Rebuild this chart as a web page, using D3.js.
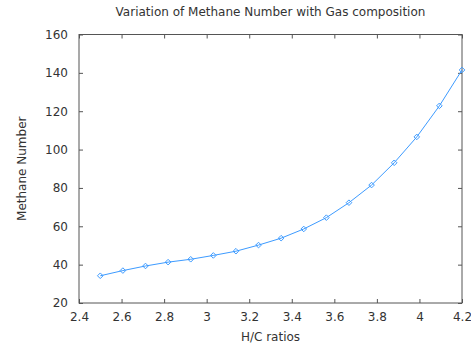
<!DOCTYPE html>
<html>
<head>
<meta charset="utf-8">
<script src="https://cdn.jsdelivr.net/npm/d3@7/dist/d3.min.js"></script>
<style>
  html, body { margin: 0; padding: 0; background: #fff; }
  svg { display: block; font-family: "DejaVu Sans", sans-serif; }
</style>
</head>
<body>
<svg id="chart" width="471" height="346"></svg>
<script>
// H/C ratio of the gas and the resulting methane number
const hcRatios = [2.5, 2.60625, 2.7125, 2.81875, 2.925, 3.03125, 3.1375, 3.24375,
                  3.35, 3.45625, 3.5625, 3.66875, 3.775, 3.88125, 3.9875, 4.09375, 4.2];
const methaneNumber = [34.2, 36.9, 39.3, 41.3, 42.8, 44.8, 47.0, 50.2,
                       53.8, 58.6, 64.5, 72.3, 81.5, 93.1, 106.6, 122.8, 141.5];
const xTicks = [2.4, 2.6, 2.8, 3, 3.2, 3.4, 3.6, 3.8, 4, 4.2];
const yTicks = [20, 40, 60, 80, 100, 120, 140, 160];

const svg = d3.select("#chart");
const m = { left: 79, right: 462, top: 34.5, bottom: 303 };

const x = d3.scaleLinear().domain([2.4, 4.2]).range([m.left, m.right]);
const y = d3.scaleLinear().domain([20, 160]).range([m.bottom, m.top]);

const axisColor = "#555";
const textColor = "#333";
const tick = 4;

// Box frame
svg.append("rect")
  .attr("x", m.left).attr("y", m.top)
  .attr("width", m.right - m.left).attr("height", m.bottom - m.top)
  .attr("fill", "none").attr("stroke", axisColor).attr("stroke-width", 1);

// Axes with inward ticks, mirrored on the opposite sides
function styleAxis(g) {
  g.select(".domain").remove();
  g.selectAll(".tick line").attr("stroke", axisColor);
  g.selectAll(".tick text").attr("fill", textColor).style("font-size", "12px")
    .style("font-family", "'DejaVu Sans', sans-serif");
}

svg.append("g").attr("transform", `translate(0,${m.bottom})`)
  .call(d3.axisBottom(x).tickValues(xTicks).tickFormat(d3.format("~g"))
        .tickSizeInner(-tick).tickPadding(9))
  .call(styleAxis);

svg.append("g").attr("transform", `translate(0,${m.top})`)
  .call(d3.axisTop(x).tickValues(xTicks).tickFormat("").tickSizeInner(-tick))
  .call(styleAxis);

svg.append("g").attr("transform", `translate(${m.left},0)`)
  .call(d3.axisLeft(y).tickValues(yTicks).tickFormat(d3.format("d"))
        .tickSizeInner(-tick).tickPadding(11))
  .call(styleAxis);

svg.append("g").attr("transform", `translate(${m.right},0)`)
  .call(d3.axisRight(y).tickValues(yTicks).tickFormat("").tickSizeInner(-tick))
  .call(styleAxis);

// Data line
const pts = hcRatios.map((h, i) => [h, methaneNumber[i]]);
const lineColor = "#3d9bff";
svg.append("path")
  .datum(pts)
  .attr("fill", "none")
  .attr("stroke", lineColor)
  .attr("stroke-width", 1)
  .attr("d", d3.line().x(d => x(d[0])).y(d => y(d[1])));

// Diamond markers
svg.append("g").selectAll("path")
  .data(pts)
  .join("path")
  .attr("transform", d => `translate(${x(d[0])},${y(d[1])})`)
  .attr("d", "M0,-2.8L2.8,0L0,2.8L-2.8,0Z")
  .attr("fill", "none")
  .attr("stroke", lineColor)
  .attr("stroke-width", 1);

// Titles
svg.append("text")
  .attr("x", (m.left + m.right) / 2).attr("y", 16)
  .attr("text-anchor", "middle").attr("fill", textColor)
  .style("font-size", "12px")
  .text("Variation of Methane Number with Gas composition");

svg.append("text")
  .attr("x", (m.left + m.right) / 2).attr("y", 341)
  .attr("text-anchor", "middle").attr("fill", textColor)
  .style("font-size", "12px")
  .text("H/C ratios");

svg.append("text")
  .attr("transform", `translate(26,${(m.top + m.bottom) / 2}) rotate(-90)`)
  .attr("text-anchor", "middle").attr("fill", textColor)
  .style("font-size", "12px")
  .text("Methane Number");
</script>
</body>
</html>
